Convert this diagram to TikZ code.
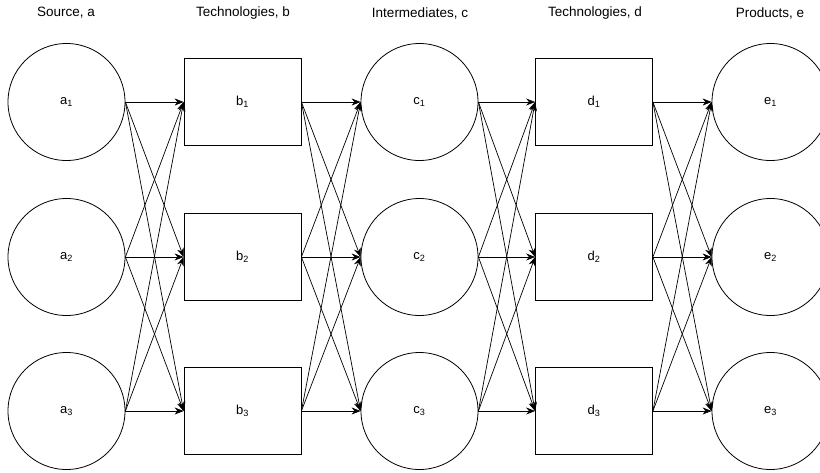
\documentclass[tikz,border=0pt]{standalone}
\usepackage{fontspec}
\setmainfont{Liberation Sans}
\usetikzlibrary{arrows.meta}

\begin{document}
\begin{tikzpicture}[x=1pt,y=-1pt,
        stock/.style={draw,circle,minimum size=117pt,inner sep=0pt,line width=0.8pt,font=\fontsize{13}{15}\selectfont},
        tech/.style={draw,rectangle,minimum width=117pt,minimum height=87pt,inner sep=0pt,line width=0.8pt,font=\fontsize{13}{15}\selectfont},
        title/.style={font=\fontsize{13.5}{16}\selectfont},
        flow/.style={-{Stealth[length=9pt,width=7pt]},line width=0.7pt}]
        \useasboundingbox (0,0) rectangle (820,472);

        % === TITLES ===
        \node[title] (ta) at (66,13) {Source, a};
        \node[title] (tb) at (243,13) {Technologies, b};
        \node[title] (tc) at (420,13) {Intermediates, c};
        \node[title] (td) at (595,13) {Technologies, d};
        \node[title] (te) at (770,13) {Products, e};

        % === NODES ===
        \foreach \i/\y in {1/102,2/257,3/411} {
            \node[stock] (a\i) at (66.5,\y) {a\textsubscript{\i}};
            \node[tech]  (b\i) at (242.5,\y) {b\textsubscript{\i}};
            \node[stock] (c\i) at (419.5,\y) {c\textsubscript{\i}};
            \node[tech]  (d\i) at (594,\y) {d\textsubscript{\i}};
            \node[stock] (e\i) at (770.5,\y) {e\textsubscript{\i}};
        }

        % === FLOWS ===
        \foreach \s/\t in {a/b,b/c,c/d,d/e}
            \foreach \i in {1,2,3}
                \foreach \j in {1,2,3}
                    \draw[flow] (\s\i.east) -- (\t\j.west);

    \end{tikzpicture}
\end{document}
